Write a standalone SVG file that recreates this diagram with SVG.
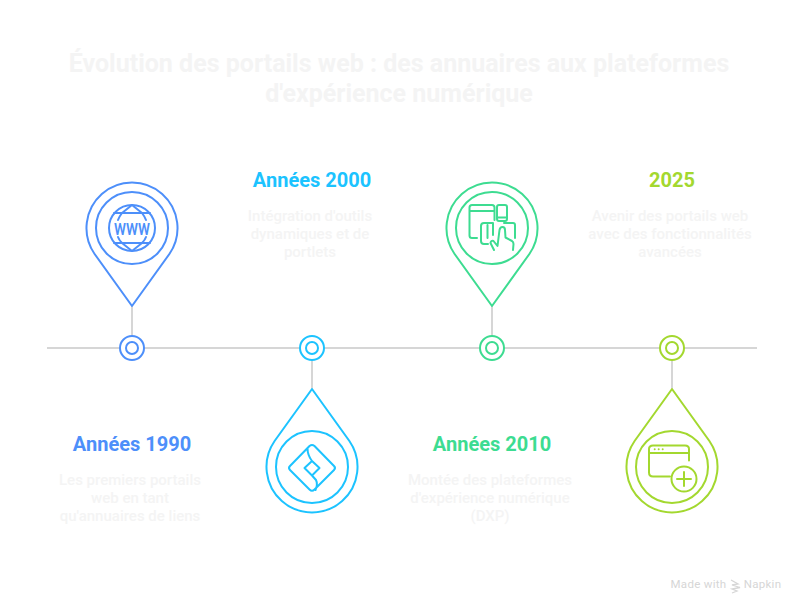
<svg xmlns="http://www.w3.org/2000/svg" width="804" height="612" viewBox="0 0 804 612">
<style>
text{font-family:Roboto,"Liberation Sans",sans-serif;text-anchor:middle}
.title{font-size:25px;font-weight:700;fill:#f4f4f4}
.head{font-size:20px;font-weight:700}
.body{font-size:15px;font-weight:500;fill:#f4f4f4}
.s{fill:none;stroke-width:2;stroke-linecap:round;stroke-linejoin:round}
.k{fill:#fff;stroke-width:2}
.b{stroke:#4d8ffa}.c{stroke:#1cc3ff}.g{stroke:#3ddc91}.l{stroke:#a3d82f}
.conn{stroke:#d6d6d6;stroke-width:2;fill:none}
.wm{font-size:11.5px;fill:#d6d6d6;letter-spacing:.3px}
</style>
<rect width="804" height="612" fill="#fff"/>
<g id="title">
<text class="title" x="399" y="72">Évolution des portails web : des annuaires aux plateformes</text>
<text class="title" x="399" y="102">d'expérience numérique</text>
</g>
<g id="connectors">
<path class="conn" d="M47 348H757M132 306V336M312 360V389M492 306V336M672 360V389"/>
</g>
<g id="node-1990">
<circle class="k b" cx="132" cy="348" r="12"/><circle class="s b" cx="132" cy="348" r="6"/>
<path class="s b" d="M132 306L94.6 254A45.5 45.5 0 1 1 169.4 254Z"/>
<circle class="s b" cx="132" cy="228" r="36"/>
<circle class="s b" cx="132" cy="228" r="23"/>
<path class="s b" d="M114 213H150M114 243H150M132 205L122 213Q119 217 118 220M132 205L142 213Q145 217 146 220M132 251L122 243Q119 240 118 237M132 251L142 243Q145 240 146 237"/>
<text x="132" y="235" font-size="22" font-weight="500" fill="#4d8ffa" textLength="36" lengthAdjust="spacingAndGlyphs">www</text>
<text class="head" x="132" y="451" fill="#4d8ffa">Années 1990</text>
<text class="body" x="130" y="485">Les premiers portails</text>
<text class="body" x="130" y="503">web en tant</text>
<text class="body" x="130" y="521">qu'annuaires de liens</text>
</g>
<g id="node-2000">
<circle class="k c" cx="312" cy="348" r="12"/><circle class="s c" cx="312" cy="348" r="6"/>
<path class="s c" d="M312 389L274.6 441A45.5 45.5 0 1 0 349.4 441Z"/>
<circle class="s c" cx="312" cy="467" r="36"/>
<path class="s c" d="M309.5 446Q312 444 314.5 446L334 466Q336 468 334 470L314.5 489.5Q312 492 309.5 489.5L290 470Q288 468 290 466ZM307.5 448.5Q307.5 455 312 461L319.5 468L312 475.5L304.5 468L312 461M312 475.5L316 480Q318 484 315.5 490"/>
<text class="head" x="312" y="187" fill="#1cc3ff">Années 2000</text>
<text class="body" x="310" y="221">Intégration d'outils</text>
<text class="body" x="310" y="239">dynamiques et de</text>
<text class="body" x="310" y="257">portlets</text>
</g>
<g id="node-2010">
<circle class="k g" cx="492" cy="348" r="12"/><circle class="s g" cx="492" cy="348" r="6"/>
<path class="s g" d="M492 306L454.6 254A45.5 45.5 0 1 1 529.4 254Z"/>
<circle class="s g" cx="492" cy="228" r="36"/>
<path class="s g" d="M477 238H472Q469.5 238 469.5 235.5V207.5Q469.5 205 472 205H492Q494.5 205 494.5 207.5V220M469.5 211H494.5M499 205H505Q507 205 507 207V219Q507 221 505 221H499Q497 221 497 219V207Q497 205 499 205ZM497 217.5H507M493 223H484Q481 223 481 226V241Q481 244 484 244H488M487.5 225V238M493 223V235M504 223H513Q515 223 515 225V238M494 250L490.5 243Q491 240 493.5 241L497.5 246L499.5 230Q500 227 502.5 227Q505 227 505 230L505.5 237.5L512 241Q513.5 242 513.5 244L513 250"/>
<text class="head" x="492" y="451" fill="#3ddc91">Années 2010</text>
<text class="body" x="490" y="485">Montée des plateformes</text>
<text class="body" x="490" y="503">d'expérience numérique</text>
<text class="body" x="490" y="521">(DXP)</text>
</g>
<g id="node-2025">
<circle class="k l" cx="672" cy="348" r="12"/><circle class="s l" cx="672" cy="348" r="6"/>
<path class="s l" d="M672 389L634.6 441A45.5 45.5 0 1 0 709.4 441Z"/>
<circle class="s l" cx="672" cy="467" r="36"/>
<path class="s l" d="M670 476.5H653Q649 476.5 649 472.5V449Q649 445.5 653 445.5H685Q689 445.5 689 449V460.5M649 453H689"/>
<circle class="s l" cx="684" cy="479" r="12.5"/>
<path class="s l" d="M677 479H691M684 472V486"/>
<path class="s l" stroke-width="2.4" stroke-dasharray="0 4" d="M654.7 449.2H663"/>
<text class="head" x="672" y="187" fill="#a3d82f">2025</text>
<text class="body" x="670" y="221">Avenir des portails web</text>
<text class="body" x="670" y="239">avec des fonctionnalités</text>
<text class="body" x="670" y="257">avancées</text>
</g>
<g id="watermark">
<text class="wm" x="698.5" y="588">Made with</text>
<text class="wm" x="762.5" y="588">Napkin</text>
<path d="M731 580L738 584L732 585L740 587.5L732 589L737 591L732 593" fill="none" stroke="#d6d6d6" stroke-width="1.3"/>
</g>
</svg>
